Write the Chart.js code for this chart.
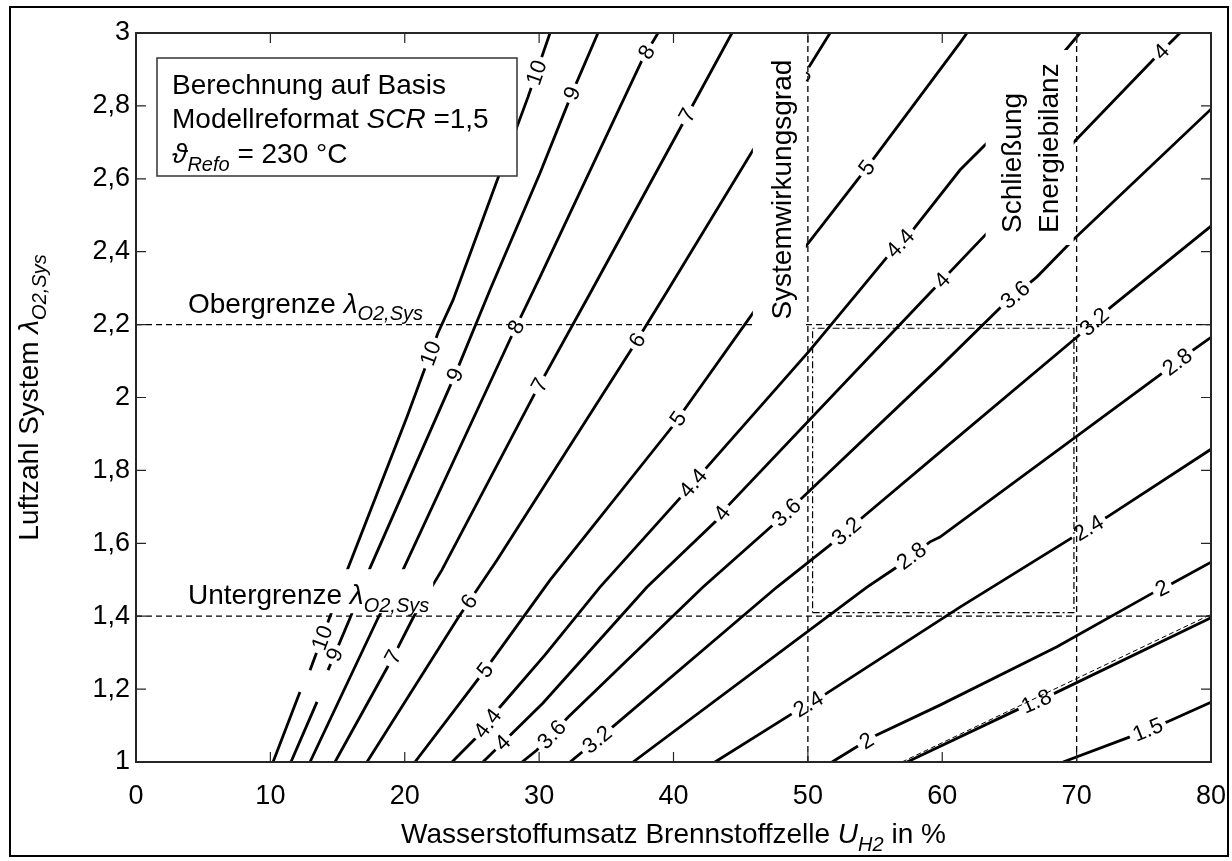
<!DOCTYPE html>
<html>
<head>
<meta charset="utf-8">
<script src="https://cdn.jsdelivr.net/npm/chart.js@4.4.1/dist/chart.umd.min.js"></script>
<style>
  html, body { margin: 0; padding: 0; background: #fff; }
  #wrap { width: 1232px; height: 861px; }
</style>
</head>
<body>
<div id="wrap"><canvas id="chart" width="1232" height="861"></canvas></div>
<script>
var FONT = '"Liberation Sans", Arial, sans-serif';

// axis ticks
var xTicks = [0, 10, 20, 30, 40, 50, 60, 70, 80];
var yTicks = [1, 1.2, 1.4, 1.6, 1.8, 2, 2.2, 2.4, 2.6, 2.8, 3];
var yTickLabels = ['1', '1,2', '1,4', '1,6', '1,8', '2', '2,2', '2,4', '2,6', '2,8', '3'];

// limits
var upperLimit = 2.2;     // Obergrenze lambda
var lowerLimit = 1.4;     // Untergrenze lambda
var effLimit = 50;        // Systemwirkungsgrad
var balanceLimit = 70;    // Schliessung Energiebilanz
var regionX = [50.35, 69.8];
var regionY = [1.41, 2.19];
var balanceLineX = [57.0, 80];
var balanceLineY = [1.0, 1.405];

// contour lines [U_H2 %, lambda]; null = gap in the contour
var c10 = [[10.20,1.000],[12.20,1.192],null,[12.95,1.252],[15.78,1.532],[20.17,1.947],[22.47,2.177],[23.59,2.267],[26.94,2.602],[29.17,2.824],[30.81,3.000]];
var c9  = [[11.53,1.000],[13.47,1.165],null,[14.29,1.252],[15.93,1.395],[17.41,1.532],[23.74,2.062],[26.34,2.295],[30.07,2.616],[32.45,2.835],[34.38,3.000]];
var c8  = [[12.95,1.000],[18.01,1.395],[19.87,1.527],[28.06,2.177],[30.07,2.331],[37.73,2.931],[38.85,3.000]];
var c7  = [[14.81,1.000],[19.13,1.288],[20.61,1.395],[22.77,1.527],[29.69,2.012],[33.93,2.295],[40.71,2.753],[44.35,3.000]];
var c6  = [[17.19,1.000],[23.96,1.395],[26.87,1.554],[30.81,1.782],[36.99,2.139],[39.59,2.295],[45.92,2.679],[49.93,2.898],[51.65,3.000]];
var c5  = [[20.76,1.000],[25.97,1.252],[30.81,1.499],[39.89,1.919],[45.92,2.232],[49.64,2.405],[54.25,2.624],[61.32,2.973],[61.84,3.000]];
var c44 = [[23.52,1.000],[25.38,1.069],[27.09,1.151],[30.44,1.294],[34.53,1.480],[40.48,1.724],[42.49,1.809],[50.16,2.130],[53.88,2.295],[55.89,2.385],[57.82,2.460],[61.32,2.624],[63.33,2.698],[70.25,3.000]];
var c4  = [[25.82,1.000],[30.29,1.162],[38.03,1.480],[43.24,1.664],[43.98,1.700],[58.57,2.267],[63.33,2.451],[69.73,2.698],[75.68,2.926],[77.69,3.000]];
var c36 = [[28.73,1.000],[29.84,1.033],[32.15,1.123],[42.20,1.480],[47.40,1.650],[49.64,1.727],[59.83,2.084],[64.52,2.254],[67.05,2.331],[69.73,2.432],[80.00,2.791]];
var c32 = [[32.30,1.000],[35.65,1.102],[47.70,1.480],[51.64,1.595],[54.10,1.672],[59.83,1.850],[70.03,2.166],[72.48,2.246],[80.00,2.470]];
var c28 = [[36.99,1.000],[54.40,1.480],[56.63,1.535],[59.09,1.604],[59.83,1.617],[76.20,2.062],[78.66,2.130],[80.00,2.165]];
var c24 = [[43.09,1.000],[48.89,1.134],[51.42,1.189],[61.32,1.425],[69.73,1.617],[72.26,1.672],[80.00,1.858]];
var c2  = [[51.80,1.000],[54.85,1.069],[59.83,1.156],[68.54,1.316],[75.68,1.464],[77.17,1.491],[80.00,1.548]];
var c18 = [[57.38,1.000],[65.56,1.143],[68.39,1.189],[80.00,1.396]];
var c15 = [[68.99,1.000],[73.97,1.069],[76.73,1.110],[80.00,1.164]];

// contour label positions [U_H2 %, lambda]
var lab10 = [[13.92,1.340],[21.88,2.122],[29.69,2.893]];
var lab9  = [[14.81,1.294],[23.74,2.062],[32.45,2.835]];
var lab8  = [[28.43,2.191],[38.10,2.945]];
var lab7  = [[19.13,1.288],[30.14,2.032],[41.00,2.775]];
var lab6  = [[24.86,1.439],[37.28,2.158],[49.71,2.882]];
var lab5  = [[25.97,1.252],[40.26,1.944],[54.40,2.630]];
var lab44 = [[26.12,1.107],[41.45,1.765],[57.00,2.418]];
var lab4  = [[27.24,1.055],[43.61,1.683],[59.98,2.322],[76.20,2.953]];
var lab36 = [[30.81,1.080],[48.45,1.683],[65.56,2.276]];
var lab32 = [[34.53,1.052],[52.91,1.631],[71.52,2.199]];
var lab28 = [[57.82,1.560],[77.54,2.095]];
var lab24 = [[50.16,1.151],[70.99,1.636]];
var lab2  = [[54.47,1.052],[76.43,1.472]];
var lab18 = [[67.05,1.162]];
var lab15 = [[75.24,1.093]];

var levels = ['10', '9', '8', '7', '6', '5', '4.4', '4', '3.6', '3.2', '2.8', '2.4', '2', '1.8', '1.5'];
var contours = [c10, c9, c8, c7, c6, c5, c44, c4, c36, c32, c28, c24, c2, c18, c15];
var contourLabels = [lab10, lab9, lab8, lab7, lab6, lab5, lab44, lab4, lab36, lab32, lab28, lab24, lab2, lab18, lab15];

function toPoints(arr) {
  var lastX = 0;
  return arr.map(function (p) {
    if (!p) return { x: lastX, y: null };
    lastX = p[0];
    return { x: p[0], y: p[1] };
  });
}

function refLine(xs, ys, dash, width) {
  return {
    data: xs.map(function (x, i) { return { x: x, y: ys[i] }; }),
    showLine: true, borderColor: '#000', borderWidth: width, borderDash: dash,
    pointRadius: 0, fill: false
  };
}

var datasets = [
  refLine([0, 80], [upperLimit, upperLimit], [6, 4], 1.3),
  refLine([0, 80], [lowerLimit, lowerLimit], [6, 4], 1.3),
  refLine([effLimit, effLimit], [1, 3], [6, 4], 1.3),
  refLine([balanceLimit, balanceLimit], [1, 3], [6, 4], 1.3),
  refLine([regionX[0], regionX[1], regionX[1], regionX[0], regionX[0]],
          [regionY[0], regionY[0], regionY[1], regionY[1], regionY[0]], [7, 3, 2, 3], 1.2),
  refLine(balanceLineX, balanceLineY, [5, 3], 1)
];
contours.forEach(function (c, i) {
  datasets.push({
    data: toPoints(c),
    showLine: true, borderColor: '#000', borderWidth: 2.8,
    pointRadius: 0, fill: false, spanGaps: false,
    ctext: levels[i], clabels: contourLabels[i]
  });
});

// rich text helper: parts = [{t, it, sub}]
function drawRich(ctx, x, y, parts, size, measureOnly) {
  var x0 = x;
  parts.forEach(function (p) {
    var s = p.sub ? Math.round(size * 0.72) : size;
    ctx.font = (p.it ? 'italic ' : '') + s + 'px ' + FONT;
    if (!measureOnly) ctx.fillText(p.t, x, y + (p.sub ? size * 0.28 : 0));
    x += ctx.measureText(p.t).width;
  });
  return x - x0;
}

var labelPlugin = {
  id: 'contourLabels',
  afterDatasetDraw: function (chart, args) {
    var ds = chart.data.datasets[args.index];
    if (!ds.clabels) return;
    var ctx = chart.ctx, xs = chart.scales.x, ys = chart.scales.y;
    var pts = args.meta.data;
    ctx.save();
    ctx.font = '22px ' + FONT;
    ds.clabels.forEach(function (l) {
      var px = xs.getPixelForValue(l[0]), py = ys.getPixelForValue(l[1]);
      var best = null;
      for (var i = 1; i < pts.length; i++) {
        var a = pts[i - 1], b = pts[i];
        if (a.skip || b.skip) continue;
        var dx = b.x - a.x, dy = b.y - a.y, len2 = dx * dx + dy * dy;
        var t = Math.max(0, Math.min(1, ((px - a.x) * dx + (py - a.y) * dy) / len2));
        var qx = a.x + t * dx, qy = a.y + t * dy;
        var d = (qx - px) * (qx - px) + (qy - py) * (qy - py);
        if (!best || d < best.d) best = { d: d, x: qx, y: qy, ang: Math.atan2(dy, dx) };
      }
      if (!best) return;
      var ang = best.ang;
      if (ang > Math.PI / 2) ang -= Math.PI;
      if (ang < -Math.PI / 2) ang += Math.PI;
      var w = ctx.measureText(ds.ctext).width;
      ctx.save();
      ctx.translate(best.x, best.y);
      ctx.rotate(ang);
      ctx.fillStyle = '#fff';
      ctx.fillRect(-w / 2 - 4, -9, w + 8, 18);
      ctx.fillStyle = '#000';
      ctx.textAlign = 'center';
      ctx.textBaseline = 'middle';
      ctx.fillText(ds.ctext, 0, 1);
      ctx.restore();
    });
    ctx.restore();
  }
};

var decoPlugin = {
  id: 'deco',
  afterDatasetsDraw: function (chart) {
    var ctx = chart.ctx, a = chart.chartArea, xs = chart.scales.x, ys = chart.scales.y;
    ctx.save();
    ctx.fillStyle = '#000';
    ctx.textBaseline = 'alphabetic';

    // limit labels with white background
    var yUp = ys.getPixelForValue(upperLimit), yLo = ys.getPixelForValue(lowerLimit);
    var tx = xs.getPixelForValue(0) + 52;
    [['Obergrenze ', yUp], ['Untergrenze ', yLo]].forEach(function (o) {
      var parts = [{ t: o[0] }, { t: '\u03BB', it: true }, { t: 'O2,Sys', it: true, sub: true }];
      var w = drawRich(ctx, 0, 0, parts, 28, true);
      ctx.fillStyle = '#fff';
      ctx.fillRect(tx - 6, o[1] - 47, w + 10, 44);
      ctx.fillStyle = '#000';
      drawRich(ctx, tx, o[1] - 12, parts, 28);
    });

    // Systemwirkungsgrad (vertical)
    var x50 = xs.getPixelForValue(effLimit);
    ctx.fillStyle = '#fff';
    ctx.fillRect(x50 - 55, a.top + 12, 53, yUp - a.top - 10);
    ctx.fillStyle = '#000';
    ctx.save();
    ctx.translate(x50 - 17, yUp - 5);
    ctx.rotate(-Math.PI / 2);
    ctx.font = '28px ' + FONT;
    ctx.fillText('Systemwirkungsgrad', 0, 0);
    ctx.restore();

    // Schliessung Energiebilanz (vertical)
    var x70 = xs.getPixelForValue(balanceLimit);
    ctx.fillStyle = '#fff';
    ctx.fillRect(x70 - 91, a.top + 17, 88, 195);
    ctx.fillStyle = '#000';
    ctx.font = '28px ' + FONT;
    ctx.save();
    ctx.translate(x70 - 56, a.top + 200);
    ctx.rotate(-Math.PI / 2);
    ctx.fillText('Schlie\u00DFung', 0, 0);
    ctx.restore();
    ctx.save();
    ctx.translate(x70 - 19, a.top + 200);
    ctx.rotate(-Math.PI / 2);
    ctx.fillText('Energiebilanz', 0, 0);
    ctx.restore();

    // calculation basis box
    var bx = a.left + 21, by = a.top + 25, bw = 360, bh = 118;
    ctx.fillStyle = '#fff';
    ctx.fillRect(bx, by, bw, bh);
    ctx.strokeStyle = '#333';
    ctx.lineWidth = 1.5;
    ctx.strokeRect(bx, by, bw, bh);
    ctx.fillStyle = '#000';
    drawRich(ctx, bx + 15, by + 36, [{ t: 'Berechnung auf Basis' }], 28);
    drawRich(ctx, bx + 15, by + 70, [{ t: 'Modellreformat ' }, { t: 'SCR', it: true }, { t: ' =1,5' }], 28);
    drawRich(ctx, bx + 15, by + 105, [{ t: '\u03D1', it: true }, { t: 'Refo', it: true, sub: true }, { t: ' = 230 \u00B0C' }], 28);

    // plot frame and inward ticks
    ctx.strokeStyle = '#262626';
    ctx.lineWidth = 2;
    ctx.strokeRect(a.left, a.top, a.right - a.left, a.bottom - a.top);
    ctx.lineWidth = 1.2;
    ctx.beginPath();
    xTicks.forEach(function (v) {
      var x = xs.getPixelForValue(v);
      ctx.moveTo(x, a.bottom); ctx.lineTo(x, a.bottom - 10);
      ctx.moveTo(x, a.top); ctx.lineTo(x, a.top + 10);
    });
    yTicks.forEach(function (v) {
      var y = ys.getPixelForValue(v);
      ctx.moveTo(a.left, y); ctx.lineTo(a.left + 10, y);
      ctx.moveTo(a.right, y); ctx.lineTo(a.right - 10, y);
    });
    ctx.stroke();
    ctx.restore();
  },
  afterDraw: function (chart) {
    var ctx = chart.ctx, a = chart.chartArea;
    ctx.save();
    ctx.fillStyle = '#000';
    // x axis title
    var xp = [{ t: 'Wasserstoffumsatz Brennstoffzelle ' }, { t: 'U', it: true }, { t: 'H2', it: true, sub: true }, { t: ' in %' }];
    var wx = drawRich(ctx, 0, 0, xp, 28, true);
    drawRich(ctx, (a.left + a.right) / 2 - wx / 2, 843, xp, 28);
    // y axis title
    var yp = [{ t: 'Luftzahl System ' }, { t: '\u03BB', it: true }, { t: 'O2,Sys', it: true, sub: true }];
    var wy = drawRich(ctx, 0, 0, yp, 28, true);
    ctx.translate(38, (a.top + a.bottom) / 2);
    ctx.rotate(-Math.PI / 2);
    drawRich(ctx, -wy / 2, 0, yp, 28);
    ctx.restore();
    // outer figure border
    ctx.save();
    ctx.strokeStyle = '#000';
    ctx.lineWidth = 2;
    ctx.strokeRect(10, 7, 1218, 849);
    ctx.restore();
  }
};

new Chart(document.getElementById('chart'), {
  type: 'scatter',
  data: { datasets: datasets },
  options: {
    responsive: false,
    animation: false,
    devicePixelRatio: 1,
    layout: { padding: { left: 0, top: 33, right: 21, bottom: 0 } },
    plugins: { legend: { display: false }, tooltip: { enabled: false } },
    scales: {
      x: {
        type: 'linear', min: 0, max: 80,
        afterBuildTicks: function (s) { s.ticks = xTicks.map(function (v) { return { value: v }; }); },
        afterFit: function (s) { s.height = 99; s.paddingLeft = 0; s.paddingRight = 0; },
        grid: { display: false, drawTicks: false },
        border: { display: false },
        ticks: { color: '#000', font: { family: FONT, size: 27 }, padding: 18, maxRotation: 0,
                 callback: function (v) { return String(v); } }
      },
      y: {
        type: 'linear', min: 1, max: 3,
        afterBuildTicks: function (s) { s.ticks = yTicks.map(function (v) { return { value: v }; }); },
        afterFit: function (s) { s.width = 136; s.paddingTop = 0; s.paddingBottom = 0; },
        grid: { display: false, drawTicks: false },
        border: { display: false },
        ticks: { color: '#000', font: { family: FONT, size: 27 }, padding: 6,
                 callback: function (v, i) { return yTickLabels[i]; } }
      }
    }
  },
  plugins: [labelPlugin, decoPlugin]
});
</script>
</body>
</html>
